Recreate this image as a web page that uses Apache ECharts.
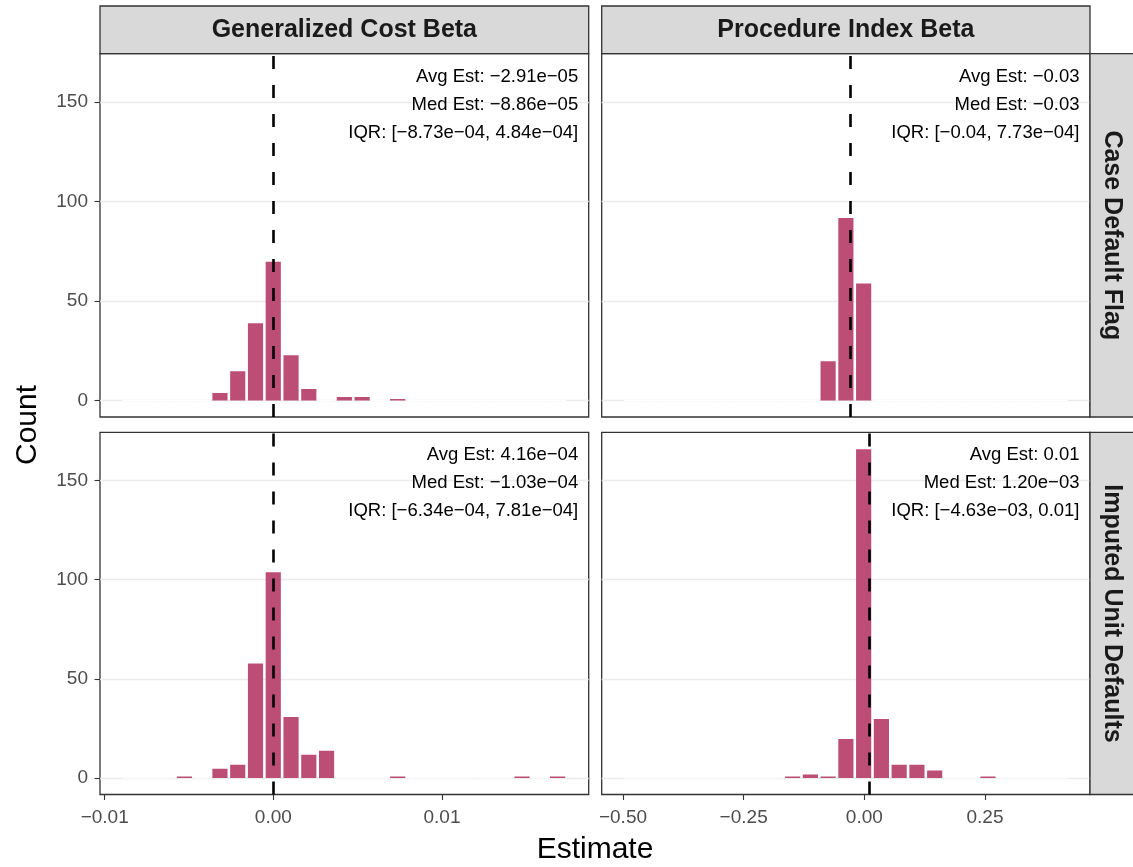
<!DOCTYPE html>
<html>
<head>
<meta charset="utf-8">
<script src="https://cdn.jsdelivr.net/npm/echarts@6/dist/echarts.min.js"></script>
<style>
  html, body { margin: 0; padding: 0; background: #fff; }
  #chart { width: 1133px; height: 867px; }
</style>
</head>
<body>
<div id="chart"></div>
<script>
// facet labels
var colTitles = ['Generalized Cost Beta', 'Procedure Index Beta'];
var rowTitles = ['Case Default Flag', 'Imputed Unit Defaults'];

// 25 equal bins per column: first edge + bin width
var costBinStart = -0.008962, costBinWidth = 0.0010538;
var procBinStart = -0.4981, procBinWidth = 0.03679;

// bin counts
var costCaseCounts = [0, 0, 0, 0, 0, 4, 15, 39, 70, 23, 6, 0, 2, 2, 0, 1, 0, 0, 0, 0, 0, 0, 0, 0, 0];
var procCaseCounts = [0, 0, 0, 0, 0, 0, 0, 0, 0, 0, 0, 20, 92, 59, 0, 0, 0, 0, 0, 0, 0, 0, 0, 0, 0];
var costImpCounts  = [0, 0, 0, 1, 0, 5, 7, 58, 104, 31, 12, 14, 0, 0, 0, 1, 0, 0, 0, 0, 0, 0, 1, 0, 1];
var procImpCounts  = [0, 0, 0, 0, 0, 0, 0, 0, 0, 1, 2, 1, 20, 166, 30, 7, 7, 4, 0, 0, 1, 0, 0, 0, 0];

// mean estimate (dashed line) per panel: TL, TR, BL, BR
var avgEst = [-2.91e-05, -0.028, 4.16e-04, 0.0108];

// text in each panel
var panelNotes = [
  ['Avg Est: \u22122.91e\u221205', 'Med Est: \u22128.86e\u221205', 'IQR: [\u22128.73e\u221204, 4.84e\u221204]'],
  ['Avg Est: \u22120.03', 'Med Est: \u22120.03', 'IQR: [\u22120.04, 7.73e\u221204]'],
  ['Avg Est: 4.16e\u221204', 'Med Est: \u22121.03e\u221204', 'IQR: [\u22126.34e\u221204, 7.81e\u221204]'],
  ['Avg Est: 0.01', 'Med Est: 1.20e\u221203', 'IQR: [\u22124.63e\u221203, 0.01]']
];

// axis ticks
var costTicks = [-0.01, 0, 0.01];
var procTicks = [-0.5, -0.25, 0, 0.25];
var countTicks = [0, 50, 100, 150];

var FONT = 'Liberation Sans';
var barColor = '#BC4E76';

function toBins(start, width, counts) {
  var out = [];
  for (var i = 0; i < counts.length; i++) {
    out.push([start + i * width, start + (i + 1) * width, counts[i]]);
  }
  return out;
}

function histItem(params, api) {
  var p0 = api.coord([api.value(0), api.value(2)]);
  var p1 = api.coord([api.value(1), 0]);
  if (api.value(2) === 0) {
    return {type: 'line', shape: {x1: p0[0], y1: p1[1], x2: p1[0], y2: p1[1]},
      style: {stroke: '#fff', lineWidth: 1}};
  }
  return {type: 'rect',
    shape: {x: p0[0] + 1.3, y: p0[1] + 0.5, width: p1[0] - p0[0] - 2.6, height: p1[1] - p0[1] - 0.5},
    style: {fill: barColor}};
}

function minus(v) { return String(v).replace('-', '\u2212'); }

var grids = [
  {left: 100, top: 53.6, width: 488.7, height: 363.4},
  {left: 601.7, top: 53.6, width: 488.3, height: 363.4},
  {left: 100, top: 432.4, width: 488.7, height: 362.1},
  {left: 601.7, top: 432.4, width: 488.3, height: 362.1}
];
grids.forEach(function (g) {
  g.show = true; g.backgroundColor = '#fff'; g.borderColor = '#333'; g.borderWidth = 1.3;
  g.containLabel = false;
});

var xAxes = [], yAxes = [], series = [];
var panelData = [
  toBins(costBinStart, costBinWidth, costCaseCounts),
  toBins(procBinStart, procBinWidth, procCaseCounts),
  toBins(costBinStart, costBinWidth, costImpCounts),
  toBins(procBinStart, procBinWidth, procImpCounts)
];

for (var i = 0; i < 4; i++) {
  var isCost = (i % 2 === 0);
  var bottom = i >= 2;
  var left = isCost;
  xAxes.push({
    type: 'value', gridIndex: i, position: 'bottom',
    min: isCost ? -0.010279 : -0.5441,
    max: isCost ? 0.01870 : 0.4675,
    axisLine: {show: false, onZero: false},
    splitLine: {show: false},
    axisTick: {show: bottom, length: 5.5, lineStyle: {color: '#333', width: 1.1},
      customValues: isCost ? costTicks : procTicks},
    axisLabel: {show: bottom, customValues: isCost ? costTicks : procTicks,
      margin: 14, color: '#4D4D4D', fontFamily: FONT, fontSize: 19,
      formatter: function (v) { return minus(v.toFixed(2)); }}
  });
  yAxes.push({
    type: 'value', gridIndex: i, min: -8.3, max: 174.3, position: 'left',
    axisLine: {show: false, onZero: false},
    splitLine: {show: true, lineStyle: {color: '#EBEBEB', width: 1.3}},
    axisTick: {show: left, length: 5.5, lineStyle: {color: '#333', width: 1.1}, customValues: countTicks},
    axisLabel: {show: left, customValues: countTicks, margin: 12, color: '#4D4D4D',
      fontFamily: FONT, fontSize: 19}
  });
  series.push({
    type: 'custom', xAxisIndex: i, yAxisIndex: i,
    renderItem: histItem, data: panelData[i], clip: true,
    markLine: {
      silent: true, symbol: ['none', 'none'], label: {show: false},
      lineStyle: {color: '#000', width: 2.6, type: [13, 16]},
      data: [{xAxis: avgEst[i]}]
    }
  });
}

var graphic = [];
// top strips
[0, 1].forEach(function (c) {
  var g = grids[c];
  graphic.push({type: 'rect', z: 100, shape: {x: g.left, y: 6, width: g.width, height: 47.6},
    style: {fill: '#D9D9D9', stroke: '#333', lineWidth: 1.3}});
  graphic.push({type: 'text', z: 101, x: g.left + g.width / 2, y: 30,
    style: {text: colTitles[c], font: 'bold 25px ' + FONT, fill: '#1A1A1A',
      align: 'center', verticalAlign: 'middle'}});
});
// right strips
[0, 1].forEach(function (r) {
  var g = grids[r * 2 + 1];
  graphic.push({type: 'rect', z: 100, shape: {x: 1090, y: g.top, width: 60, height: g.height},
    style: {fill: '#D9D9D9', stroke: '#333', lineWidth: 1.3}});
  graphic.push({type: 'text', z: 101, x: 1112, y: g.top + g.height / 2, rotation: -Math.PI / 2,
    style: {text: rowTitles[r], font: 'bold 25px ' + FONT, fill: '#1A1A1A',
      align: 'center', verticalAlign: 'middle'}});
});
// panel notes
for (var p = 0; p < 4; p++) {
  var gx = grids[p];
  for (var k = 0; k < 3; k++) {
    graphic.push({type: 'text', z: 101, x: gx.left + gx.width - 10.5, y: gx.top + 23 + k * 28,
      style: {text: panelNotes[p][k], font: '18.5px ' + FONT, fill: '#000',
        align: 'right', verticalAlign: 'middle'}});
  }
}
// axis titles
graphic.push({type: 'text', z: 101, x: 28, y: 425, rotation: Math.PI / 2,
  style: {text: 'Count', font: '30px ' + FONT, fill: '#000', align: 'center', verticalAlign: 'middle'}});
graphic.push({type: 'text', z: 101, x: 595, y: 850,
  style: {text: 'Estimate', font: '30px ' + FONT, fill: '#000', align: 'center', verticalAlign: 'middle'}});

var chart = echarts.init(document.getElementById('chart'));
chart.setOption({
  animation: false,
  backgroundColor: '#fff',
  grid: grids,
  xAxis: xAxes,
  yAxis: yAxes,
  series: series,
  graphic: graphic
});
</script>
</body>
</html>
